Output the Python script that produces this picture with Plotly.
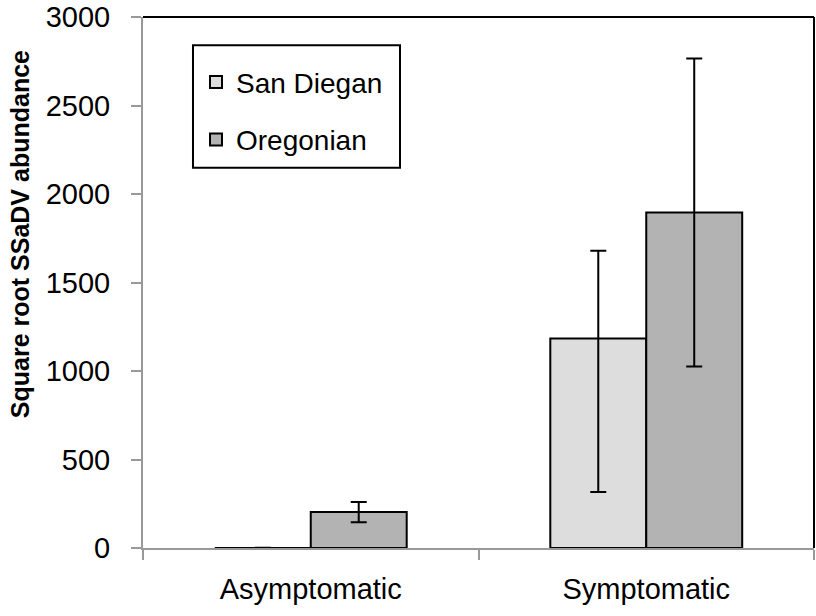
import plotly.graph_objects as go

categories = ["Asymptomatic", "Symptomatic"]
san_diegan = [0, 1184]
san_diegan_err_plus = [2, 496]
san_diegan_err_minus = [2, 868]
oregonian = [203, 1896]
oregonian_err = [57, 870]
y_ticks = [0, 500, 1000, 1500, 2000, 2500, 3000]
y_title = "Square root SSaDV abundance"

FONT = "Liberation Sans, Arial, sans-serif"

fig = go.Figure()
fig.add_trace(go.Bar(
    name="San Diegan", x=categories, y=san_diegan, legendgroup="a",
    marker=dict(color="#DDDDDD", line=dict(color="black", width=2)),
    error_y=dict(type="data", symmetric=False, array=san_diegan_err_plus,
                 arrayminus=san_diegan_err_minus, color="black", thickness=2, width=8),
))
fig.add_trace(go.Bar(
    name="Oregonian", x=categories, y=oregonian, legendgroup="b",
    marker=dict(color="#B3B3B3", line=dict(color="black", width=2)),
    error_y=dict(type="data", array=oregonian_err, color="black", thickness=2, width=8),
))

fig.update_layout(
    width=816, height=616,
    margin=dict(l=143, r=2, t=17, b=68),
    paper_bgcolor="white", plot_bgcolor="white",
    font=dict(family=FONT, size=28, color="black"),
    barmode="group", bargap=0.428, bargroupgap=0,
    showlegend=True,
    legend=dict(x=0.079, y=0.924, xanchor="left", yanchor="top",
                borderwidth=0, bgcolor="rgba(0,0,0,0)",
                font=dict(family=FONT, size=28), tracegroupgap=18,
                traceorder="grouped"),
    xaxis=dict(type="category", showline=True, linecolor="#999999", linewidth=2,
               ticks="outside", tickson="boundaries", ticklen=10, tickwidth=2,
               tickcolor="#999999", showgrid=False, tickfont=dict(size=29),
               ticklabelstandoff=14, automargin=False),
    yaxis=dict(range=[0, 3000], tickvals=y_ticks, showline=True, linecolor="#999999",
               linewidth=2, ticks="outside", ticklen=10, tickwidth=2, tickcolor="#999999",
               showgrid=False, zeroline=False, tickfont=dict(size=29),
               ticklabelstandoff=15, automargin=False),
    annotations=[
        dict(text="<b>" + y_title + "</b>", xref="paper", yref="paper",
             x=0, y=0.591, xanchor="center", yanchor="middle", xshift=-123,
             textangle=-90, showarrow=False, font=dict(size=25, color="black")),
    ],
    shapes=[
        dict(type="line", xref="paper", yref="paper", x0=0, x1=1, y0=1, y1=1,
             line=dict(color="black", width=2)),
        dict(type="line", xref="paper", yref="paper", x0=1, x1=1, y0=0, y1=1,
             line=dict(color="black", width=2)),
        dict(type="rect", xref="paper", yref="paper", x0=0.0745, x1=0.383,
             y0=0.716, y1=0.947, line=dict(color="black", width=2),
             fillcolor="rgba(0,0,0,0)", layer="above"),
    ],
)

fig.write_html("out.html", config={"displayModeBar": False},
               post_script="document.body.style.margin='0';document.body.style.overflow='hidden';")
